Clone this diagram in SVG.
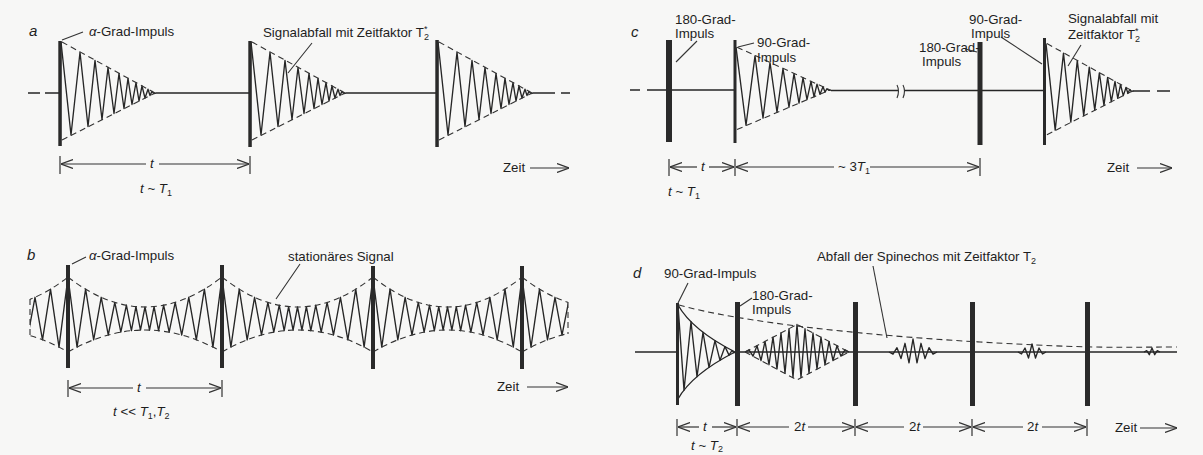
<svg xmlns="http://www.w3.org/2000/svg" width="1203" height="455" viewBox="0 0 1203 455">
<style>
text{font-family:"Liberation Sans",Arial,sans-serif;font-size:13.3px;fill:#1e1e1e}
.i{font-style:italic}
.lbl{font-size:15px;font-style:italic}
.sub{font-size:9px}
.w{fill:none;stroke:#262626;stroke-width:1.35;stroke-linejoin:round;vector-effect:non-scaling-stroke}
.env{fill:none;stroke:#333;stroke-width:1.1;stroke-dasharray:6 4;vector-effect:non-scaling-stroke}
.ln{fill:none;stroke:#262626;stroke-width:1.4}
.thin{fill:none;stroke:#333;stroke-width:1.1}
.p{fill:#2a2a2a}
.dim{fill:none;stroke:#333;stroke-width:1.2}
</style>
<defs>
<marker id="ah" viewBox="0 0 12 10" refX="12" refY="5" markerWidth="12" markerHeight="10" markerUnits="userSpaceOnUse" orient="auto-start-reverse">
<path d="M0,0.5 L12,5 L0,9.5" fill="none" stroke="#333" stroke-width="1.2"/>
</marker>
<g id="fid">
<polyline class="w" points="0,-51 10,42 19,-40.7 27,33.5 34,-32.6 41,26.5 47,-25.5 53,20.5 58,-19.5 63,15.5 67,-14.6 71,11.5 75,-10.3 78,8 81,-7 84,5 87,-3.8 89,2.5 91,-1.6 93,0.5 95,0"/>
<path class="env" d="M1,-51 L94,0 M1,47 L94,0"/>
</g>
<g id="bseg">
<polyline class="w" points="0,277 9,347.1 17.5,289.2 25.5,339.8 33,297.3 40,335 46.5,302.4 52.5,332.2 58,305.2 63,330.7 67.5,306.6 72,330.1 76.5,307 81,330.1 85.5,306.6 90,330.7 95,305.2 100.5,332.2 106.5,302.4 113,335 120,297.3 127.5,339.8 135.5,289.2 144,347.1 153,277"/>
<path class="env" d="M0,277 Q76.5,337 153,277 M0,352 Q76.5,308 153,352"/>
</g>
<clipPath id="bclip"><rect x="30" y="250" width="538" height="130"/></clipPath>
</defs>
<rect width="1203" height="455" fill="#f7f7f6"/>

<g id="panel-a">
<text class="lbl" x="29" y="36">a</text>
<path class="ln" d="M28,93 H40 M45,93 H59 M156,93 H249 M346,93 H436 M533,93 H555 M561,93 H570"/>
<use href="#fid" transform="translate(61,93)"/>
<use href="#fid" transform="translate(251,93)"/>
<use href="#fid" transform="translate(438,93)"/>
<rect class="p" x="58.3" y="41" width="3.5" height="105"/>
<rect class="p" x="248.3" y="41" width="3.5" height="106"/>
<rect class="p" x="435.3" y="40" width="3.5" height="107"/>
<path class="thin" d="M62,40 L83,32 M312,43 L288,73"/>
<text x="89" y="36"><tspan class="i">α</tspan>-Grad-Impuls</text>
<text x="263" y="37">Signalabfall mit Zeitfaktor T<tspan class="sub" dy="3">2</tspan><tspan class="sub" dx="-5" dy="-8">*</tspan></text>
<path class="dim" d="M60,156 V174 M250,156 V174"/>
<path class="dim" d="M61,164 H146" marker-start="url(#ah)"/>
<path class="dim" d="M159,164 H249" marker-end="url(#ah)"/>
<text class="i" x="150" y="168">t</text>
<text x="140" y="193"><tspan class="i">t</tspan> ~ <tspan class="i">T</tspan><tspan class="sub" dy="3">1</tspan></text>
<text x="503" y="172">Zeit</text>
<path class="dim" d="M530,168 H569" marker-end="url(#ah)"/>
</g>

<g id="panel-b">
<text class="lbl" x="27" y="260">b</text>
<g clip-path="url(#bclip)">
<use href="#bseg" transform="translate(-85,0)"/>
<use href="#bseg" transform="translate(68,0) scale(1.0065,1)"/>
<use href="#bseg" transform="translate(222,0) scale(0.987,1)"/>
<use href="#bseg" transform="translate(373,0) scale(0.974,1)"/>
<use href="#bseg" transform="translate(522,0)"/>
</g>
<path class="env" d="M30,299 V335 M568,302 V334"/>
<rect class="p" x="66" y="265" width="4" height="103"/>
<rect class="p" x="220" y="265" width="4" height="103"/>
<rect class="p" x="371" y="266" width="4" height="103"/>
<rect class="p" x="520" y="266" width="4" height="103"/>
<path class="thin" d="M72,264 L86,257 M300,264 L276,299"/>
<text x="89" y="260"><tspan class="i">α</tspan>-Grad-Impuls</text>
<text x="288" y="261">stationäres Signal</text>
<path class="dim" d="M68,380 V397 M222,380 V397"/>
<path class="dim" d="M69,388 H133" marker-start="url(#ah)"/>
<path class="dim" d="M146,388 H221" marker-end="url(#ah)"/>
<text class="i" x="137" y="392">t</text>
<text x="113" y="416"><tspan class="i">t</tspan> &lt;&lt; <tspan class="i">T</tspan><tspan class="sub" dy="3">1</tspan><tspan dy="-3">,</tspan><tspan class="i">T</tspan><tspan class="sub" dy="3">2</tspan></text>
<text x="497" y="391">Zeit</text>
<path class="dim" d="M527,387 H568" marker-end="url(#ah)"/>
</g>

<g id="panel-c">
<text class="lbl" x="631" y="37">c</text>
<path class="ln" d="M630,90 H640 M647,90 H734 M831,90.5 H898 M904,90.5 H1044 M1133,91 H1150 M1157,91 H1170"/>
<path class="thin" d="M897,85 Q900,91 897,98 M903,85 Q906,91 903,98"/>
<use href="#fid" transform="translate(736,90) scale(1,0.84)"/>
<use href="#fid" transform="translate(1046,91) scale(0.92,0.93)"/>
<rect class="p" x="666" y="40" width="6" height="102"/>
<rect class="p" x="733.5" y="40" width="3" height="103"/>
<rect class="p" x="977.5" y="42" width="5" height="103"/>
<rect class="p" x="1043" y="38" width="3" height="107"/>
<text x="675" y="24">180-Grad-</text>
<text x="675" y="38">Impuls</text>
<path class="thin" d="M697,41 L676,62"/>
<text x="757" y="47">90-Grad-</text>
<text x="757" y="62">Impuls</text>
<path class="thin" d="M738,47 L754,43"/>
<text x="919" y="52">180-Grad-</text>
<text x="922" y="66">Impuls</text>
<path class="thin" d="M965,49 L977,52"/>
<text x="969" y="24">90-Grad-</text>
<text x="971" y="38">Impuls</text>
<path class="thin" d="M1001,37 L1042,64"/>
<text x="1068" y="23">Signalabfall mit</text>
<text x="1068" y="39">Zeitfaktor T<tspan class="sub" dy="3">2</tspan><tspan class="sub" dx="-5" dy="-8">*</tspan></text>
<path class="thin" d="M1081,45 L1068,66"/>
<path class="dim" d="M669,159 V176 M735,159 V176 M980,158 V176"/>
<path class="dim" d="M670,167 H697" marker-start="url(#ah)"/>
<path class="dim" d="M709,167 H734" marker-end="url(#ah)"/>
<path class="dim" d="M736,167 H834" marker-start="url(#ah)"/>
<path class="dim" d="M870,167 H979" marker-end="url(#ah)"/>
<text class="i" x="701" y="171">t</text>
<text x="838" y="171">~ 3<tspan class="i">T</tspan><tspan class="sub" dy="3">1</tspan></text>
<text x="668" y="196"><tspan class="i">t</tspan> ~ <tspan class="i">T</tspan><tspan class="sub" dy="3">1</tspan></text>
<text x="1107" y="172">Zeit</text>
<path class="dim" d="M1137,168 H1172" marker-end="url(#ah)"/>
</g>

<g id="panel-d">
<text class="lbl" x="633" y="278">d</text>
<path class="ln" d="M635,352 H676 M736,352 H1177"/>
<path class="env" d="M679,305 C740,322 860,335 980,342 S1120,347 1177,347"/>
<path class="w" d="M678,305 Q692,330 735,352 M678,399 Q692,374 735,352"/>
<polyline class="w" points="678,305 684,390.1 691,321.7 697,376.6 703,332.3 709,367.4 715,340.6 720,360.3 725,346.6 729,355.1 732,350.5 734,352.7 736,352"/>
<polyline class="w" transform="translate(797,352)" points="-52,0 -48,-2.1 -44,4.2 -40,-6.3 -36,8.5 -32,-10.6 -28,12.7 -24,-14.8 -20,16.9 -16,-19 -12,21.2 -8,-23.3 -4,25.4 0,-27.5 4,25.4 8,-23.3 12,21.2 16,-19 20,16.9 24,-14.8 28,12.7 32,-10.6 36,8.5 40,-6.3 44,4.2 48,-2.1 52,0"/>
<path class="env" d="M745,352 L797,324.5 L849,352 M745,352 L797,380 L849,352"/>
<polyline class="w" transform="translate(913,352)" points="-24,0 -20,2.2 -16,-4.3 -12,6.5 -8,-8.7 -4,10.8 0,-13 4,10.8 8,-8.7 12,6.5 16,-4.3 20,2.2 24,0"/>
<polyline class="w" transform="translate(1032,352)" points="-14,0 -10.5,2 -7,-4 -3.5,6 0,-8 3.5,6 7,-4 10.5,2 14,0"/>
<polyline class="w" transform="translate(1152,352)" points="-8,0 -5.3,-1.3 -2.7,2.7 0,-4 2.7,2.7 5.3,-1.3 8,0"/>
<rect class="p" x="676" y="303" width="3" height="102"/>
<rect class="p" x="735" y="302" width="5" height="104"/>
<rect class="p" x="853" y="302" width="5" height="104"/>
<rect class="p" x="970" y="302" width="5" height="104"/>
<rect class="p" x="1085" y="302" width="5" height="104"/>
<text x="664" y="278">90-Grad-Impuls</text>
<path class="thin" d="M688,283 L678,303"/>
<text x="752" y="300">180-Grad-</text>
<text x="752" y="314">Impuls</text>
<path class="thin" d="M740,306 L752,298"/>
<text x="817" y="261">Abfall der Spinechos mit Zeitfaktor T<tspan class="sub" dy="3">2</tspan></text>
<path class="thin" d="M873,266 L887,338"/>
<path class="dim" d="M677,419 V436 M737,419 V436 M855,419 V436 M972,419 V436 M1087,419 V436"/>
<path class="dim" d="M678,427 H699" marker-start="url(#ah)"/>
<path class="dim" d="M712,427 H736" marker-end="url(#ah)"/>
<path class="dim" d="M738,427 H789" marker-start="url(#ah)"/>
<path class="dim" d="M808,427 H854" marker-end="url(#ah)"/>
<path class="dim" d="M856,427 H904" marker-start="url(#ah)"/>
<path class="dim" d="M923,427 H971" marker-end="url(#ah)"/>
<path class="dim" d="M973,427 H1023" marker-start="url(#ah)"/>
<path class="dim" d="M1042,427 H1086" marker-end="url(#ah)"/>
<text class="i" x="703" y="431">t</text>
<text x="794" y="431">2<tspan class="i">t</tspan></text>
<text x="909" y="431">2<tspan class="i">t</tspan></text>
<text x="1027" y="431">2<tspan class="i">t</tspan></text>
<text x="691" y="450"><tspan class="i">t</tspan> ~ <tspan class="i">T</tspan><tspan class="sub" dy="2">2</tspan></text>
<text x="1115" y="432">Zeit</text>
<path class="dim" d="M1140,428 H1177" marker-end="url(#ah)"/>
</g>
</svg>
